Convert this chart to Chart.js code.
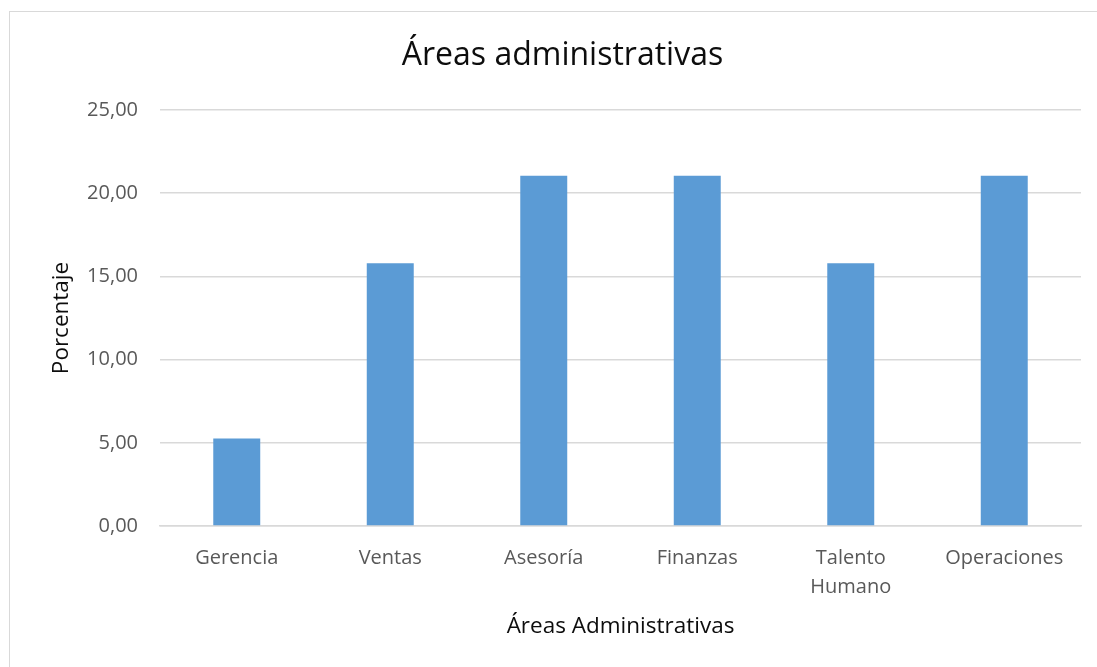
<!DOCTYPE html>
<html><head><meta charset="utf-8">
<script src="https://cdn.jsdelivr.net/npm/chart.js@4"></script>
<style>
html,body{margin:0;padding:0;background:#fff;overflow:hidden;}
#frame{position:absolute;left:9px;top:11px;width:1102px;height:680px;border:1px solid #d9d9d9;box-sizing:border-box;}
#wrap{position:absolute;left:9px;top:11px;width:1102px;height:656px;}
</style></head>
<body>
<div id="frame"></div>
<div id="wrap"><canvas id="c"></canvas></div>
<script>
const categories = ["Gerencia","Ventas","Asesoría","Finanzas",["Talento","Humano"],"Operaciones"];
const values = [5.26, 15.79, 21.05, 21.05, 15.79, 21.05];
const yTicks = [0, 5, 10, 15, 20, 25];
const chartTitle = "Áreas administrativas";
const xTitle = "Áreas Administrativas";
const yTitle = "Porcentaje";
const FONT = "'Open Sans', sans-serif";
const grey = "#595959";
const dark = "#0d0d0d";

new Chart(document.getElementById('c'), {
  type: 'bar',
  data: { labels: categories, datasets: [{ data: values, backgroundColor: '#5b9bd5', borderWidth: 0, barPercentage: 0.306, categoryPercentage: 1 }] },
  options: {
    responsive: true, maintainAspectRatio: false, animation: false,
    layout: { padding: { left: 35, right: 30, top: 26, bottom: 23 } },
    plugins: {
      legend: { display: false }, tooltip: { enabled: false },
      title: { display: true, text: chartTitle, color: dark, font: { family: FONT, size: 32, weight: 'normal' }, padding: { top: 0, bottom: 34.6 } }
    },
    scales: {
      x: {
        afterFit: (s) => { s.height = 118; },
        grid: { display: false, drawTicks: false },
        border: { display: true, color: '#d9d9d9', width: 1.5 },
        ticks: { color: grey, font: { family: FONT, size: 20, lineHeight: 1.45 }, padding: 17.5, maxRotation: 0, autoSkip: false },
        title: { display: true, text: xTitle, color: dark, font: { family: FONT, size: 22.5 }, padding: { top: 4, bottom: 4 } }
      },
      y: {
        min: 0, max: 25,
        afterFit: (s) => { s.width = 116; },
        afterBuildTicks: (s) => { s.ticks = yTicks.map(v => ({ value: v })); },
        grid: { color: '#d9d9d9', lineWidth: 1.5, drawTicks: false },
        border: { display: false },
        ticks: { color: grey, font: { family: FONT, size: 20 }, padding: 22, callback: v => v.toFixed(2).replace('.', ',') },
        title: { display: true, text: yTitle, color: dark, font: { family: FONT, size: 22.5 }, padding: { top: 4, bottom: 4 } }
      }
    }
  }
});
</script>
</body></html>
